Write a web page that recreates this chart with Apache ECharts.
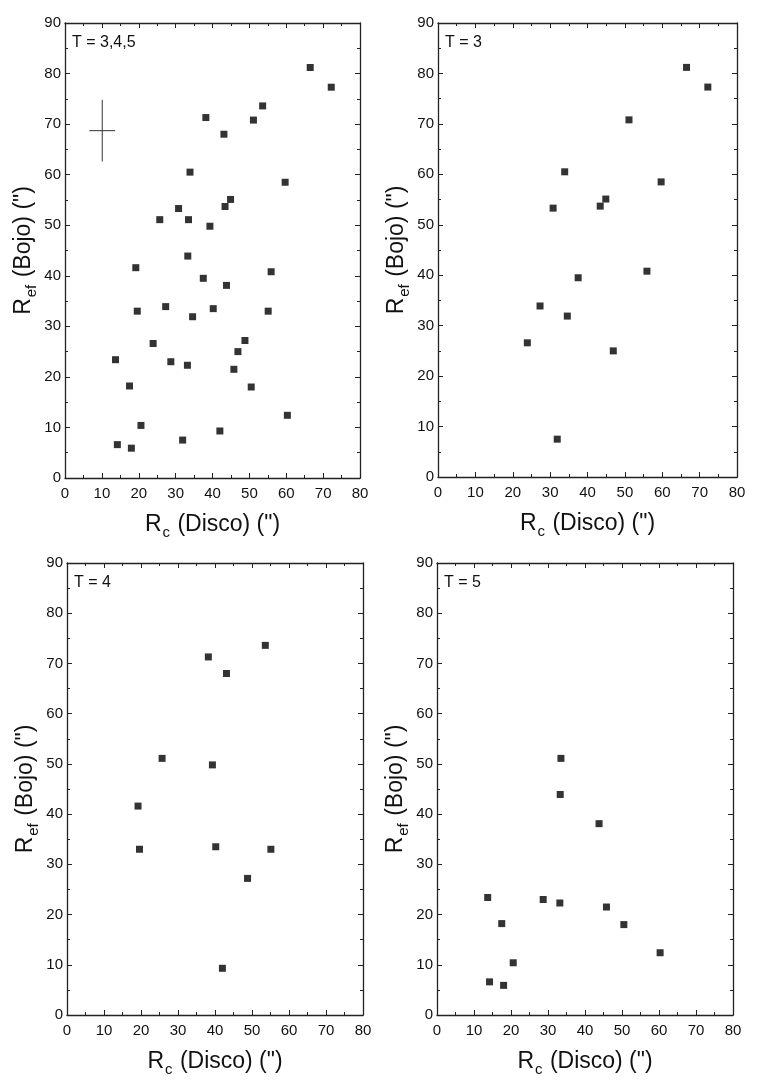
<!DOCTYPE html>
<html><head><meta charset="utf-8">
<script src="https://cdn.jsdelivr.net/npm/echarts@6/dist/echarts.min.js"></script>
<style>html,body{margin:0;padding:0;background:#fff}#c{width:759px;height:1090px}</style>
</head><body><div id="c"></div>
<script>
// Data: [Rc (Disco), Ref (Bojo)]
const T3 = [[66.5,81.2],[72.2,77.3],[51.1,70.8],[33.9,60.5],[59.7,58.5],[30.8,53.3],[43.4,53.7],[44.9,55.1],[55.9,40.8],[37.5,39.5],[27.3,33.9],[34.6,31.9],[23.9,26.6],[46.9,25.0],[31.9,7.5]];
const T4 = [[38.2,71.3],[43.1,68.0],[53.6,73.6],[25.7,51.1],[39.3,49.8],[19.2,41.6],[19.6,33.0],[40.2,33.5],[55.1,33.0],[48.8,27.2],[42.0,9.3]];
const T5 = [[33.5,51.1],[33.3,43.9],[43.8,38.1],[13.7,23.4],[28.7,23.0],[33.2,22.3],[45.8,21.5],[17.5,18.2],[50.5,18.0],[60.3,12.4],[20.6,10.4],[14.2,6.6],[18.0,5.9]];
const ALL = T3.concat(T4, T5);
// typical error bar: center, half-width in x, half-height in y
const errCenter = [10.1, 68.7];
const errHalf = [3.5, 6.1];
const panelLabels = ['T = 3,4,5', 'T = 3', 'T = 4', 'T = 5'];
const panelData = [ALL, T3, T4, T5];

const FONT = 'Liberation Sans';
const grids = [
  {left:65, top:23, width:295, height:455},
  {left:438, top:23, width:299, height:454},
  {left:67, top:563, width:296, height:452},
  {left:437, top:563, width:296, height:452}
];
const axLine = {show:true, onZero:false, lineStyle:{color:'#222', width:1.3}};
const tick = {show:true, inside:true, length:5, lineStyle:{color:'#222', width:1}};
const minor = {show:true, splitNumber:2, length:3, lineStyle:{color:'#222', width:1}};
const nameRich = {m:{fontSize:23, fontFamily:FONT, color:'#111'}, s:{fontSize:15, fontFamily:FONT, color:'#111', padding:[15,1,0,1]}};
const xAxes = [], yAxes = [], series = [], graphics = [];
grids.forEach((g, i) => {
  xAxes.push({gridIndex:i, type:'value', min:0, max:80, interval:10, position:'bottom',
    axisLine:axLine, axisTick:tick, minorTick:minor, splitLine:{show:false},
    axisLabel:{color:'#111', fontSize:15, fontFamily:FONT, margin:8},
    name:'{m|R}{s|c}{m| (Disco) (")}', nameLocation:'middle', nameGap:32,
    nameTextStyle:{rich:nameRich}
  });
  xAxes.push({gridIndex:i, type:'value', min:0, max:80, interval:10, position:'top',
    axisLine:axLine, axisTick:tick, minorTick:minor, splitLine:{show:false}, axisLabel:{show:false}
  });
  yAxes.push({gridIndex:i, type:'value', min:0, max:90, interval:10, position:'left',
    axisLine:axLine, axisTick:tick, minorTick:minor, splitLine:{show:false},
    axisLabel:{color:'#111', fontSize:15, fontFamily:FONT, margin:4},
    name:'{m|R}{s|ef}{m| (Bojo) (")}', nameLocation:'middle', nameGap:26,
    nameTextStyle:{rich:nameRich}
  });
  yAxes.push({gridIndex:i, type:'value', min:0, max:90, interval:10, position:'right',
    axisLine:axLine, axisTick:tick, minorTick:minor, splitLine:{show:false}, axisLabel:{show:false}
  });
  series.push({type:'scatter', xAxisIndex:2*i, yAxisIndex:2*i, data:panelData[i],
    symbol:'rect', symbolSize:7, itemStyle:{color:'#000'}, silent:true});
  graphics.push({type:'text', left:g.left+7, top:g.top+12,
    style:{text:panelLabels[i], fontSize:16, fontFamily:FONT, fill:'#111'}});
});
// error cross on first panel
series.push({type:'line', xAxisIndex:0, yAxisIndex:0, symbol:'none', silent:true,
  lineStyle:{color:'#333', width:1},
  data:[[errCenter[0]-errHalf[0], errCenter[1]], [errCenter[0]+errHalf[0], errCenter[1]]]});
series.push({type:'line', xAxisIndex:0, yAxisIndex:0, symbol:'none', silent:true,
  lineStyle:{color:'#333', width:1},
  data:[[errCenter[0], errCenter[1]-errHalf[1]], [errCenter[0], errCenter[1]+errHalf[1]]]});

const chart = echarts.init(document.getElementById('c'), null, {renderer:'canvas'});
chart.setOption({animation:false, backgroundColor:'#fff', grid:grids, xAxis:xAxes, yAxis:yAxes, series:series, graphic:graphics});
</script></body></html>
